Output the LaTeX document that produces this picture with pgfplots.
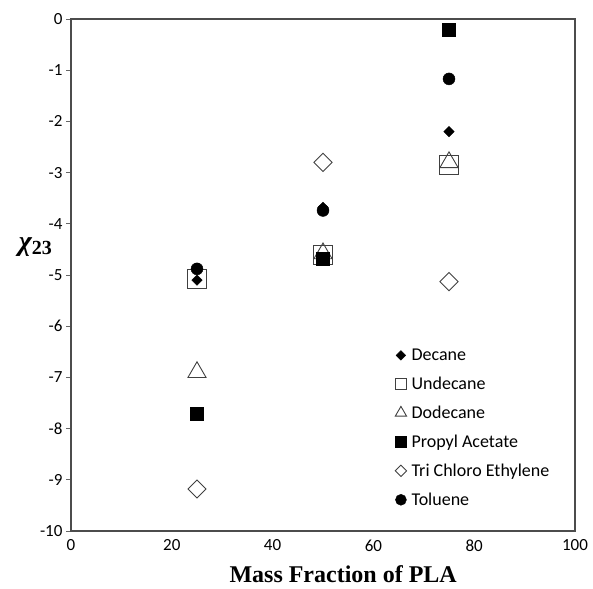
\documentclass[border=0pt]{standalone}
\usepackage{pgfplots}
\pgfplotsset{compat=1.18}
\usepackage{fontspec}
\setmainfont{Carlito}
\newfontfamily\timesf{Liberation Serif}
\begin{document}
\begin{tikzpicture}
\useasboundingbox (-71bp,-58bp) rectangle (522bp,531bp);
\begin{axis}[
  at={(0,0)}, anchor=south west,
  width=504bp, height=512bp, scale only axis,
  xmin=0, xmax=100, ymin=-10, ymax=0,
  xtick={0,20,...,100}, ytick={-10,-9,...,0},
  /pgf/number format/assume math mode=true,
  tick label style={font=\fontsize{17bp}{20bp}\selectfont},
  axis line style={black!70, line width=1.5bp},
  xtick style={draw=none},
  ytick style={black!60, line width=0.8bp},
  tick align=outside, ytick pos=left, xtick pos=bottom,
  major tick length=5bp,
  xlabel={\timesf\bfseries\fontsize{24bp}{26bp}\selectfont Mass Fraction of PLA},
  xlabel style={at={(axis description cs:0.54,0)}, anchor=base, yshift=-51bp, inner sep=0pt},
  ylabel={{\timesf\bfseries\itshape\fontsize{28bp}{30bp}\selectfont χ}{\timesf\bfseries\fontsize{20bp}{20bp}\selectfont\raisebox{-0.45ex}{23}}},
  ylabel style={rotate=-90, at={(axis description cs:0,0.555)}, anchor=east, xshift=-19bp, inner sep=0pt},
  legend style={at={(axis cs:64.3,-6.4)}, anchor=north west, draw=none, fill=none,
    font=\fontsize{18bp}{20bp}\selectfont, row sep=11bp, inner sep=0pt,
    /tikz/every odd column/.append style={column sep=3bp}},
  legend cell align=left,
  legend image code/.code={\draw[mark repeat=2,mark phase=2] plot coordinates {(0cm,0cm)(0.13cm,0cm)(0.26cm,0cm)};},
]
\addplot[only marks, mark=square*, mark size=3.7bp, mark options={rotate=45, fill=black, draw=black},
  legend image post style={mark size=3.4bp}]
  coordinates {(25,-5.1) (50,-3.68) (75,-2.2)};
\addlegendentry{Decane}
\addplot[only marks, mark=square, mark size=9.5bp, mark options={draw=black!75, line width=0.9bp},
  legend image post style={mark size=5.5bp}]
  coordinates {(25,-5.08) (50,-4.6) (75,-2.85)};
\addlegendentry{Undecane}
\addplot[only marks, mark=triangle, mark size=10.5bp, mark options={draw=black!75, line width=0.9bp},
  legend image post style={mark size=6.5bp}]
  coordinates {(25,-6.9) (50,-4.58) (75,-2.8)};
\addlegendentry{Dodecane}
\addplot[only marks, mark=square*, mark size=6.5bp, mark options={fill=black, draw=black},
  legend image post style={mark size=5.5bp}]
  coordinates {(25,-7.7) (50,-4.68) (75,-0.2)};
\addlegendentry{Propyl Acetate}
\addplot[only marks, mark=square, mark size=6.4bp, mark options={rotate=45, draw=black!75, line width=0.9bp},
  legend image post style={mark size=4bp}]
  coordinates {(25,-9.18) (50,-2.8) (75,-5.13)};
\addlegendentry{Tri Chloro Ethylene}
\addplot[only marks, mark=*, mark size=6bp, mark options={fill=black, draw=black},
  legend image post style={mark size=5.5bp}]
  coordinates {(25,-4.88) (50,-3.74) (75,-1.17)};
\addlegendentry{Toluene}
\end{axis}
\end{tikzpicture}
\end{document}
